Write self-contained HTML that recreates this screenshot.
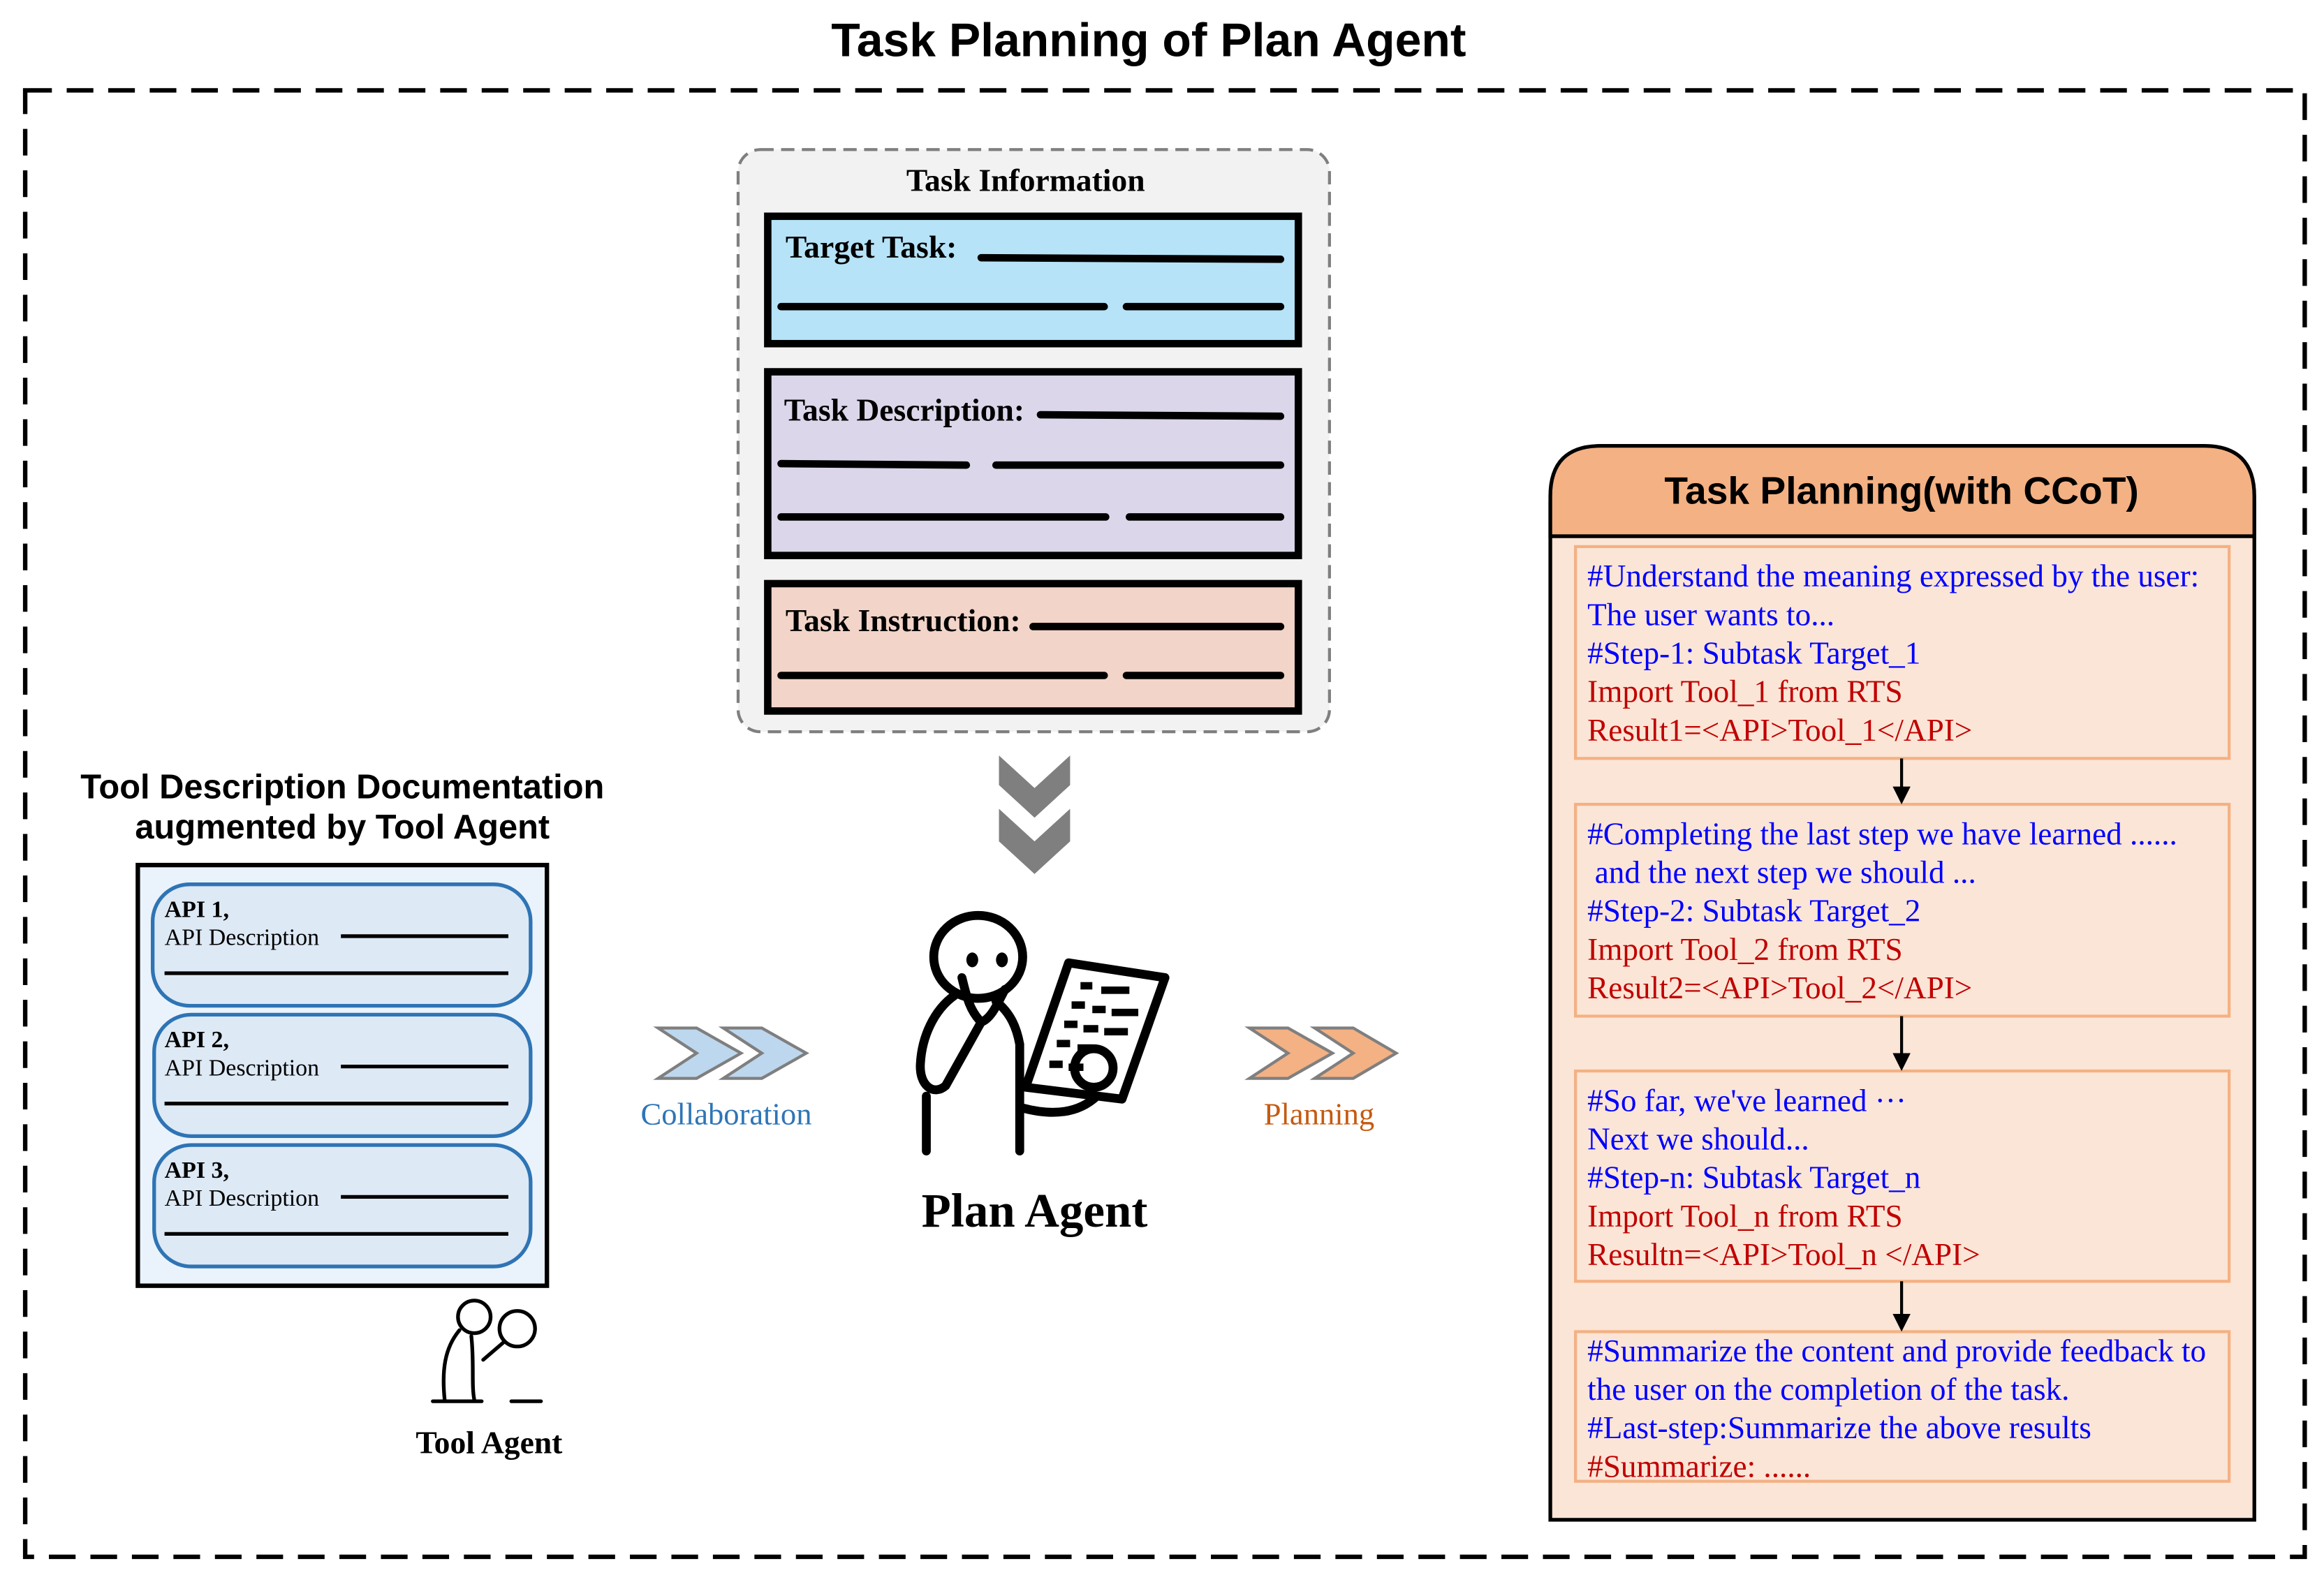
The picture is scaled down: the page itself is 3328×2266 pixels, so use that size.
<!DOCTYPE html>
<html><head><meta charset="utf-8"><style>
html,body{margin:0;padding:0;background:#fff;}
svg{display:block}
.serif{font-family:"Liberation Serif",serif}
.sans{font-family:"Liberation Sans",sans-serif}
</style></head><body>
<svg width="3328" height="2266" viewBox="0 0 1568 1068" preserveAspectRatio="none" xmlns="http://www.w3.org/2000/svg">
<rect width="1568" height="1068" fill="#fff"/>
<text x="775" y="38" text-anchor="middle" class="sans" font-weight="bold" font-size="32">Task Planning of Plan Agent</text>
<rect x="17" y="61" width="1538" height="990" fill="none" stroke="#000" stroke-width="3" stroke-dasharray="18 10"/>

<!-- Task information -->
<rect x="498" y="101" width="399" height="393" rx="15" fill="#f2f2f2" stroke="#7f7f7f" stroke-width="2" stroke-dasharray="9 5"/>
<text x="692" y="129" text-anchor="middle" class="serif" font-weight="bold" font-size="21.5">Task Information</text>
<g stroke="#000" stroke-width="5" stroke-linecap="round">
<rect x="518" y="146" width="358" height="86" fill="#b6e3f7"/>
<rect x="518" y="251" width="358" height="124" fill="#dcd6ea"/>
<rect x="518" y="394" width="358" height="86" fill="#f2d4c8"/>
<line x1="662" y1="174" x2="864" y2="175"/>
<line x1="527" y1="207" x2="745" y2="207"/><line x1="760" y1="207" x2="864" y2="207"/>
<line x1="702" y1="280" x2="864" y2="281"/>
<line x1="527" y1="313" x2="652" y2="314"/><line x1="672" y1="314" x2="864" y2="314"/>
<line x1="527" y1="349" x2="746" y2="349"/><line x1="762" y1="349" x2="864" y2="349"/>
<line x1="697" y1="423" x2="864" y2="423"/>
<line x1="527" y1="456" x2="745" y2="456"/><line x1="760" y1="456" x2="864" y2="456"/>
</g>
<g class="serif" font-weight="bold" font-size="21.5">
<text x="530" y="174">Target Task:</text>
<text x="529" y="284">Task Description:</text>
<text x="530" y="426">Task Instruction:</text>
</g>
<g fill="#7f7f7f">
<polygon points="674,510 698,532 722,510 722,530 698,552 674,530"/>
<polygon points="674,546 698,568 722,546 722,568 698,590 674,568"/>
</g>

<!-- Plan agent figure -->
<g fill="none" stroke="#000" stroke-width="6" stroke-linecap="round" stroke-linejoin="round">
<ellipse cx="660" cy="646" rx="30" ry="28"/>
<path d="M644 672 C630 682 622 700 621 718 C620 733 630 740 638 733 L662 690"/>
<path d="M649 660 C652 672 654 682 662 690 C668 688 672 680 678 668"/>
<path d="M625 740 L625 777"/>
<path d="M672 676 C682 684 686 694 688 705 L688 777"/>
<polygon points="721,650 786,660 757,742 692,734"/>
<circle cx="738" cy="721" r="13"/>
<path d="M690 748 C705 752 725 754 740 740"/>
</g>
<g fill="#000">
<ellipse cx="656" cy="648" rx="4" ry="5"/><ellipse cx="676" cy="648" rx="4" ry="5"/>
<rect x="729" y="663" width="8" height="5"/><rect x="743" y="666" width="19" height="5"/>
<rect x="723" y="676" width="9" height="5"/><rect x="737" y="679" width="9" height="5"/><rect x="750" y="681" width="18" height="5"/>
<rect x="718" y="689" width="9" height="5"/><rect x="731" y="692" width="10" height="5"/><rect x="745" y="694" width="16" height="5"/>
<rect x="713" y="702" width="9" height="5"/><rect x="727" y="705" width="10" height="5"/>
<rect x="708" y="716" width="9" height="5"/><rect x="721" y="718" width="10" height="5"/>
</g>
<text x="698" y="828" text-anchor="middle" class="serif" font-weight="bold" font-size="32.5">Plan Agent</text>

<!-- Left -->
<g class="sans" font-weight="bold" font-size="23" text-anchor="middle">
<text x="231" y="539">Tool Description Documentation</text>
<text x="231" y="566">augmented by Tool Agent</text>
</g>
<rect x="93" y="584" width="276" height="284" fill="#eaf3fb" stroke="#000" stroke-width="3"/>
<g fill="#dde9f5" stroke="#2e74b5" stroke-width="2.5">
<rect x="103" y="597" width="255" height="82" rx="25"/>
<rect x="104" y="685" width="254" height="82" rx="25"/>
<rect x="104" y="773" width="254" height="82" rx="25"/>
</g>
<g stroke="#000" stroke-width="2.5">
<line x1="230" y1="632" x2="343" y2="632"/><line x1="111" y1="657" x2="343" y2="657"/>
<line x1="230" y1="720" x2="343" y2="720"/><line x1="111" y1="745" x2="343" y2="745"/>
<line x1="230" y1="808" x2="343" y2="808"/><line x1="111" y1="833" x2="343" y2="833"/>
</g>
<g class="serif" font-size="16">
<text x="111" y="619" font-weight="bold">API 1,</text><text x="111" y="638">API Description</text>
<text x="111" y="707" font-weight="bold">API 2,</text><text x="111" y="726">API Description</text>
<text x="111" y="795" font-weight="bold">API 3,</text><text x="111" y="814">API Description</text>
</g>
<g fill="none" stroke="#000" stroke-width="2.5" stroke-linecap="round">
<circle cx="320" cy="889" r="11"/>
<circle cx="349" cy="897" r="12"/>
<line x1="340" y1="906" x2="326" y2="918"/>
<path d="M310 898 C300 910 298 925 300 945"/>
<path d="M318 902 C320 920 318 935 320 945"/>
<line x1="345" y1="946" x2="365" y2="946"/>
<line x1="292" y1="946" x2="325" y2="946"/>
</g>
<text x="330" y="981" text-anchor="middle" class="serif" font-weight="bold" font-size="21.5">Tool Agent</text>

<g stroke="#7f7f7f" stroke-width="2">
<polygon points="444,694 470,694 500,711 470,728 444,728 470,711" fill="#bdd7ee"/>
<polygon points="488,694 514,694 544,711 514,728 488,728 514,711" fill="#bdd7ee"/>
<polygon points="843,694 869,694 899,711 869,728 843,728 869,711" fill="#f4b183"/>
<polygon points="887,694 913,694 942,711 913,728 887,728 913,711" fill="#f4b183"/>
</g>
<text x="490" y="759" text-anchor="middle" class="serif" font-size="21" fill="#2e75b6">Collaboration</text>
<text x="890" y="759" text-anchor="middle" class="serif" font-size="21" fill="#c55a11">Planning</text>

<!-- Right panel -->
<rect x="1046" y="340" width="475" height="686" fill="#fbe5d6" stroke="#000" stroke-width="2.5"/>
<path d="M1046 362 L1046 335 Q1046 301 1080 301 L1487 301 Q1521 301 1521 335 L1521 362 Z" fill="#f4b183" stroke="#000" stroke-width="2.5"/>
<text x="1283" y="340" text-anchor="middle" class="sans" font-weight="bold" font-size="26">Task Planning(with CCoT)</text>
<g fill="none" stroke="#f4b183" stroke-width="2">
<rect x="1063" y="369" width="441" height="143"/>
<rect x="1063" y="543" width="441" height="143"/>
<rect x="1063" y="723" width="441" height="142"/>
<rect x="1063" y="899" width="441" height="101"/>
</g>
<g stroke="#000" stroke-width="2">
<line x1="1283" y1="512" x2="1283" y2="533"/>
<line x1="1283" y1="686" x2="1283" y2="713"/>
<line x1="1283" y1="865" x2="1283" y2="889"/>
</g>
<g fill="#000">
<polygon points="1277,531 1289,531 1283,543"/>
<polygon points="1277,711 1289,711 1283,723"/>
<polygon points="1277,887 1289,887 1283,899"/>
</g>
<g class="serif" font-size="21.3">
<text x="1071" y="396" fill="#0000ff">#Understand the meaning expressed by the user:</text>
<text x="1071" y="422" fill="#0000ff">The user wants to...</text>
<text x="1071" y="448" fill="#0000ff">#Step-1: Subtask Target_1</text>
<text x="1071" y="474" fill="#c00000">Import Tool_1 from RTS</text>
<text x="1071" y="500" fill="#c00000">Result1=&lt;API&gt;Tool_1&lt;/API&gt;</text>
<text x="1071" y="570" fill="#0000ff">#Completing the last step we have learned ......</text>
<text x="1076" y="596" fill="#0000ff">and the next step we should ...</text>
<text x="1071" y="622" fill="#0000ff">#Step-2: Subtask Target_2</text>
<text x="1071" y="648" fill="#c00000">Import Tool_2 from RTS</text>
<text x="1071" y="674" fill="#c00000">Result2=&lt;API&gt;Tool_2&lt;/API&gt;</text>
<text x="1071" y="750" fill="#0000ff">#So far, we've learned ···</text>
<text x="1071" y="776" fill="#0000ff">Next we should...</text>
<text x="1071" y="802" fill="#0000ff">#Step-n: Subtask Target_n</text>
<text x="1071" y="828" fill="#c00000">Import Tool_n from RTS</text>
<text x="1071" y="854" fill="#c00000">Resultn=&lt;API&gt;Tool_n &lt;/API&gt;</text>
<text x="1071" y="919" fill="#0000ff">#Summarize the content and provide feedback to</text>
<text x="1071" y="945" fill="#0000ff">the user on the completion of the task.</text>
<text x="1071" y="971" fill="#0000ff">#Last-step:Summarize the above results</text>
<text x="1071" y="997" fill="#c00000">#Summarize: ......</text>
</g>
</svg>
</body></html>
